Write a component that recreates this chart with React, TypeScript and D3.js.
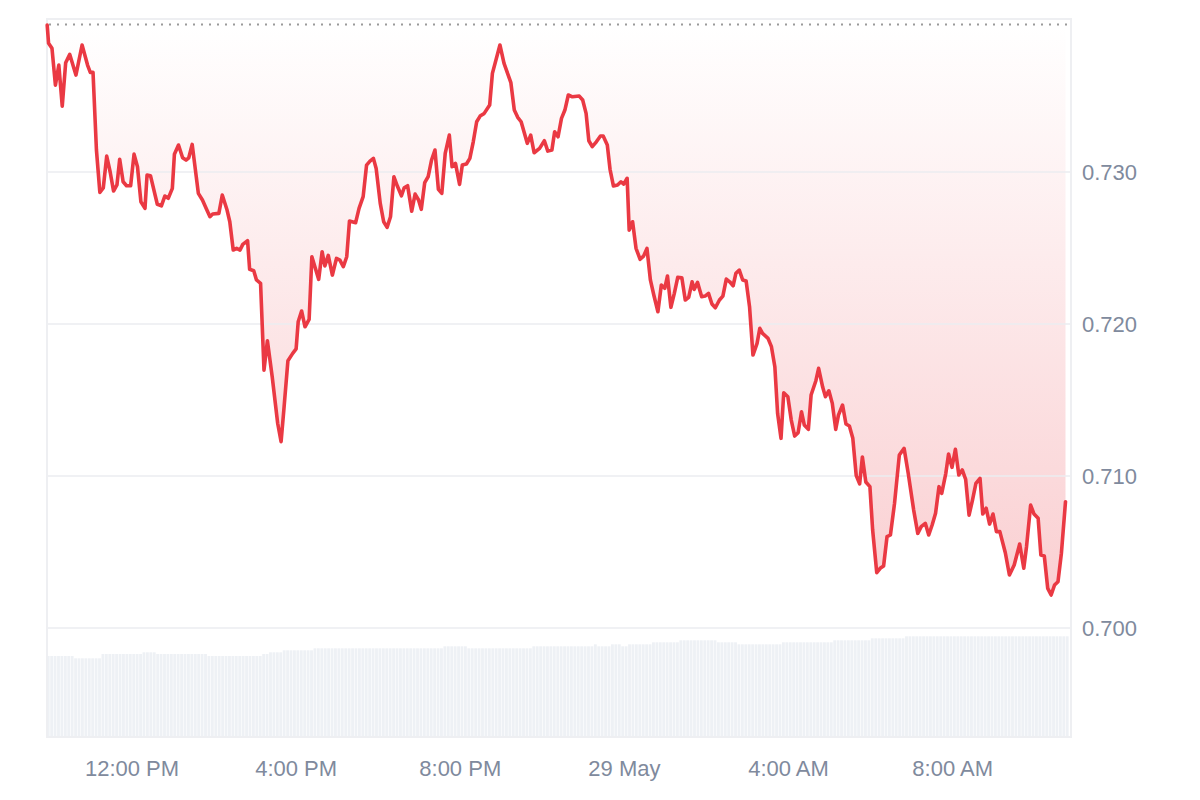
import React from "react";
import * as d3 from "d3";

// Price points: minutes after 28 May 00:00, and price (USD)
const priceMinutes: number[] = [
  596, 598, 603, 608, 613, 618, 623, 629, 638, 647,
  655, 659, 663, 668, 673, 678, 683, 688, 693, 698,
  702, 707, 712, 718, 723, 728, 733, 739, 742, 747,
  757, 763, 768, 773, 779, 782, 788, 794, 799, 803,
  808, 817, 823, 829, 834, 838, 847, 852, 859, 863,
  868, 873, 878, 882, 889, 892, 898, 902, 908, 913,
  918, 925, 933, 938, 942, 948, 955, 960, 963, 968,
  973, 979, 983, 993, 998, 1002, 1007, 1013, 1019, 1024,
  1029, 1034, 1038, 1047, 1052, 1058, 1063, 1068, 1073, 1077,
  1083, 1088, 1093, 1098, 1103, 1108, 1114, 1118, 1123, 1129,
  1134, 1139, 1143, 1148, 1153, 1158, 1163, 1168, 1173, 1178,
  1184, 1188, 1193, 1199, 1203, 1209, 1214, 1219, 1224, 1229,
  1235, 1243, 1247, 1258, 1264, 1274, 1279, 1284, 1289, 1298,
  1303, 1308, 1316, 1323, 1328, 1334, 1338, 1343, 1348, 1353,
  1358, 1364, 1374, 1379, 1384, 1388, 1393, 1399, 1405, 1409,
  1415, 1419, 1424, 1430, 1435, 1439, 1444, 1447, 1452, 1457,
  1463, 1468, 1473, 1478, 1483, 1489, 1494, 1499, 1503, 1508,
  1513, 1518, 1524, 1529, 1534, 1539, 1542, 1547, 1553, 1558,
  1563, 1568, 1573, 1579, 1584, 1589, 1594, 1599, 1603, 1608,
  1613, 1618, 1623, 1628, 1634, 1638, 1642, 1650, 1655, 1660,
  1664, 1669, 1673, 1679, 1684, 1689, 1694, 1699, 1703, 1709,
  1713, 1720, 1724, 1730, 1734, 1739, 1744, 1749, 1753, 1759,
  1764, 1769, 1774, 1779, 1784, 1788, 1793, 1799, 1803, 1809,
  1814, 1819, 1824, 1829, 1835, 1842, 1849, 1855, 1863, 1869,
  1874, 1880, 1885, 1890, 1895, 1900, 1904, 1910, 1914, 1919,
  1924, 1929, 1934, 1939, 1944, 1949, 1954, 1960, 1964, 1969,
  1974, 1979, 1984, 1989, 1997, 2003, 2010, 2018, 2024, 2028,
  2034, 2039, 2045, 2049, 2054, 2059, 2064, 2069, 2074, 2079, 2085,
];

const prices: number[] = [
  0.73967, 0.73847, 0.73814, 0.73572, 0.73704, 0.73434, 0.73719, 0.73774, 0.73638, 0.73836,
  0.73704, 0.73656, 0.73656, 0.73145, 0.72866, 0.72895, 0.73105, 0.73002, 0.72875, 0.72915,
  0.73084, 0.72936, 0.7291, 0.7291, 0.73118, 0.73035, 0.72805, 0.72761, 0.7298, 0.72976,
  0.72788, 0.72778, 0.72842, 0.72827, 0.72893, 0.73117, 0.73178, 0.73094, 0.73079, 0.73094,
  0.73182, 0.7286, 0.72816, 0.72755, 0.72706, 0.72724, 0.72728, 0.72849, 0.7275, 0.72673,
  0.72487, 0.72498, 0.72487, 0.72524, 0.72548, 0.7236, 0.72351, 0.7229, 0.72268, 0.71697,
  0.7189, 0.71653, 0.71347, 0.71226, 0.71434, 0.71759, 0.71807, 0.71836, 0.72015, 0.72086,
  0.71982, 0.72031, 0.72443, 0.72294, 0.72476, 0.72382, 0.72452, 0.72322, 0.72432, 0.72421,
  0.72377, 0.72443, 0.72678, 0.72667, 0.72761, 0.72838, 0.73046, 0.73072, 0.7309, 0.73024,
  0.72794, 0.72673, 0.72636, 0.72706, 0.72969, 0.72908, 0.72844, 0.72897, 0.7291, 0.72743,
  0.72855, 0.72816, 0.72755, 0.7293, 0.72969, 0.73079, 0.73145, 0.72886, 0.7286, 0.73123,
  0.73243, 0.73035, 0.73057, 0.72919, 0.73046, 0.73053, 0.7309, 0.73199, 0.73331, 0.73368,
  0.73386, 0.73441, 0.73649, 0.73836, 0.73715, 0.73588, 0.73408, 0.7336, 0.73331, 0.73189,
  0.73243, 0.73127, 0.73156, 0.73206, 0.73138, 0.73145, 0.73265, 0.73232, 0.73353, 0.73408,
  0.73507, 0.73495, 0.735, 0.73474, 0.73386, 0.73206, 0.73167, 0.73199, 0.73237, 0.73237,
  0.73178, 0.73018, 0.72908, 0.72915, 0.72936, 0.72921, 0.72959, 0.72618, 0.72673, 0.72498,
  0.72426, 0.72447, 0.72498, 0.7229, 0.72191, 0.72081, 0.72257, 0.72235, 0.72316, 0.7211,
  0.72202, 0.72307, 0.72305, 0.72158, 0.72176, 0.72278, 0.72228, 0.72274, 0.7218, 0.72184,
  0.72202, 0.72132, 0.72107, 0.72158, 0.72184, 0.72296, 0.72278, 0.72252, 0.72334, 0.72355,
  0.7229, 0.72283, 0.72114, 0.71796, 0.71873, 0.71972, 0.71939, 0.71906, 0.71851, 0.71719,
  0.71413, 0.71248, 0.71548, 0.71522, 0.71368, 0.71263, 0.71285, 0.71423, 0.71336, 0.71307,
  0.71533, 0.71627, 0.71709, 0.71584, 0.71522, 0.71561, 0.71478, 0.71307, 0.71401, 0.71467,
  0.71342, 0.71329, 0.71248, 0.71003, 0.70949, 0.71125, 0.70961, 0.7093, 0.70645, 0.70364,
  0.70393, 0.70408, 0.70601, 0.70612, 0.7082, 0.71138, 0.71182, 0.71018, 0.70776, 0.70623,
  0.70667, 0.70689, 0.70612, 0.70678, 0.70755, 0.7093, 0.70886, 0.71018, 0.71145, 0.71057,
  0.71176, 0.71007, 0.7104, 0.70978, 0.70743, 0.70842, 0.70952, 0.70985, 0.7075, 0.70788,
  0.70684, 0.7075, 0.70634, 0.70634, 0.70495, 0.70349, 0.70415, 0.70553, 0.70393, 0.70535,
  0.70809, 0.7075, 0.70722, 0.7048, 0.70474, 0.70261, 0.70217, 0.70283, 0.70305, 0.70492, 0.70831,
];

// Volume bars: one bar per 5 minutes starting 28 May 09:55
const volumeStartMinute = 595;
const volumeStepMinutes = 5;
const volumes: number[] = [
  810, 810, 810, 810, 810, 810, 810, 810,
  787, 787, 787, 787, 787, 787, 787, 787,
  830, 830, 830, 830, 830, 830, 830, 830, 830, 830, 830, 830,
  847, 847, 847, 847,
  830, 830, 830, 830, 830, 830, 830, 830, 830, 830, 830, 830, 830, 830, 830,
  810, 810, 810, 810, 810, 810, 810, 810, 810, 810, 810, 810, 810, 810, 810, 810,
  830, 830,
  847, 847, 847, 847,
  867, 867, 867, 867, 867, 867, 867, 867, 867,
  887, 887, 887, 887, 887, 887, 887, 887, 887, 887,
  887, 887, 887, 887, 887, 887, 887, 887, 887, 887,
  887, 887, 887, 887, 887, 887, 887, 887, 887, 887,
  887, 887, 887, 887, 887, 887, 887, 887,
  907, 907, 907, 907, 907, 907, 907,
  887, 887, 887, 887, 887, 887, 887, 887, 887, 887,
  887, 887, 887, 887, 887, 887, 887, 887, 887,
  907, 907, 907, 907, 907, 907, 907, 907, 907,
  907, 907, 907, 907, 907, 907, 907, 907, 907,
  927,
  907, 907, 907, 907,
  927, 927, 927,
  907, 907,
  927, 927, 927, 927, 927, 927, 927,
  947, 947, 947, 947, 947, 947, 947, 947,
  967, 967, 967, 967, 967, 967, 967, 967, 967, 967, 967,
  947, 947, 947, 947, 947, 947,
  927, 927, 927, 927, 927, 927, 927, 927, 927, 927, 927, 927, 927,
  947, 947, 947, 947, 947, 947, 947, 947, 947, 947, 947, 947, 947, 947, 947,
  967, 967, 967, 967, 967, 967, 967, 967, 967, 967, 967,
  987, 987, 987, 987, 987, 987, 987, 987, 987, 987,
  1007, 1007, 1007, 1007, 1007, 1007, 1007, 1007, 1007, 1007, 1007, 1007,
  1007, 1007, 1007, 1007, 1007, 1007, 1007, 1007, 1007, 1007, 1007, 1007,
  1007, 1007, 1007, 1007, 1007, 1007, 1007, 1007, 1007, 1007, 1007, 1007,
  1007, 1007, 1007, 1007, 1007, 1007, 1007, 1007, 1007, 1007, 1007, 1007,
];

const yTickValues: number[] = [0.7, 0.71, 0.72, 0.73];
const xTickMinutes: number[] = [720, 960, 1200, 1440, 1680, 1920];
const xTickLabels: string[] = ["12:00 PM", "4:00 PM", "8:00 PM", "29 May", "4:00 AM", "8:00 AM"];

const toDate = (m: number) => new Date(2024, 4, 28, 0, m);

const W = 1200;
const H = 800;
const plotLeft = 47;
const plotRight = 1071;
const plotTop = 19;
const plotBottom = 737;

const RED = "#ea3943";
const GRAY_TEXT = "#808a9d";
const FONT = "'Liberation Sans', Arial, Helvetica, sans-serif";

export default function App() {
  const data = priceMinutes.map((m, i) => ({ t: toDate(m), p: prices[i] }));
  const baseline = prices[0];

  const x = d3
    .scaleTime()
    .domain([toDate(priceMinutes[0]), toDate(priceMinutes[priceMinutes.length - 1])])
    .range([47.2, 1065.5]);

  const y = d3.scaleLinear().domain([0.69283, 0.74007]).range([plotBottom, plotTop]);

  const yVol = d3.scaleLinear().domain([0, 1010]).range([plotBottom, 636]);

  const line = d3
    .line<{ t: Date; p: number }>()
    .x((d) => x(d.t))
    .y((d) => y(d.p));

  const area = d3
    .area<{ t: Date; p: number }>()
    .x((d) => x(d.t))
    .y0(() => y(baseline))
    .y1((d) => y(d.p));

  const yBase = y(baseline);

  return (
    <svg
      width={W}
      height={H}
      viewBox={`0 0 ${W} ${H}`}
      style={{ position: "absolute", left: 0, top: 0, display: "block", background: "#ffffff" }}
    >
      <defs>
        <linearGradient id="areaGrad" gradientUnits="userSpaceOnUse" x1="0" y1={yBase} x2="0" y2={y(0.7022)}>
          <stop offset="0%" stopColor={RED} stopOpacity={0} />
          <stop offset="100%" stopColor={RED} stopOpacity={0.24} />
        </linearGradient>
      </defs>
      <rect x={0} y={0} width={W} height={H} fill="#ffffff" />

      {/* volume bars */}
      <g>
        {volumes.map((v, i) => {
          const t0 = volumeStartMinute + i * volumeStepMinutes;
          const x0 = x(toDate(t0));
          const x1 = x(toDate(t0 + volumeStepMinutes));
          return (
            <rect
              key={i}
              x={x0 + 0.3}
              y={yVol(v)}
              width={Math.max(0.5, x1 - x0 - 0.6)}
              height={plotBottom - yVol(v)}
              fill="#eef1f5"
            />
          );
        })}
      </g>

      {/* area fill */}
      <path d={area(data) || ""} fill="url(#areaGrad)" />

      {/* grid lines */}
      <g>
        {yTickValues.map((v) => (
          <line
            key={v}
            x1={plotLeft}
            x2={plotRight}
            y1={y(v)}
            y2={y(v)}
            stroke="#ebedf0"
            strokeWidth={1.5}
          />
        ))}
      </g>

      {/* plot frame */}
      <rect
        x={plotLeft}
        y={plotTop}
        width={plotRight - plotLeft}
        height={plotBottom - plotTop}
        fill="none"
        stroke="#eeeff2"
        strokeWidth={2}
      />

      {/* baseline dotted */}
      <line
        x1={plotLeft + 2}
        x2={plotRight - 2}
        y1={yBase - 0.5}
        y2={yBase - 0.5}
        stroke="#9a9a9a"
        strokeWidth={2}
        strokeDasharray="2 6"
      />

      {/* price line */}
      <path
        d={line(data) || ""}
        fill="none"
        stroke={RED}
        strokeWidth={3.6}
        strokeLinejoin="round"
        strokeLinecap="round"
      />

      {/* y axis labels */}
      <g fontFamily={FONT} fontSize={22} fill={GRAY_TEXT}>
        {yTickValues.map((v) => (
          <text key={v} x={1082} y={y(v) + 8}>
            {v.toFixed(3)}
          </text>
        ))}
      </g>

      {/* x axis labels */}
      <g fontFamily={FONT} fontSize={22} fill={GRAY_TEXT} textAnchor="middle">
        {xTickMinutes.map((m, i) => (
          <text key={m} x={x(toDate(m))} y={776}>
            {xTickLabels[i]}
          </text>
        ))}
      </g>
    </svg>
  );
}
